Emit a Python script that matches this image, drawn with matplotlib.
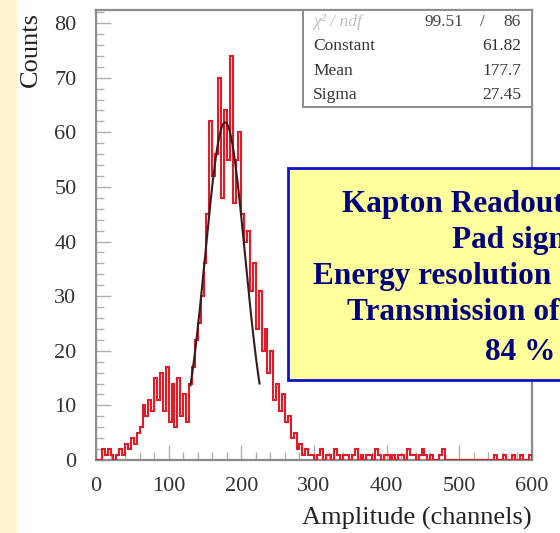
import numpy as np
import matplotlib.pyplot as plt
from matplotlib.patches import Rectangle
from matplotlib.ticker import MultipleLocator

plt.rcParams['font.family'] = ['Liberation Serif', 'DejaVu Serif']

# histogram: 4-channel bins from 0 to 600
bin_width = 4
counts = [
    0, 0, 2, 1, 2, 1, 0, 1, 2, 1,            # 0-40
    3, 2, 4, 3, 5, 6, 10, 8, 11, 9,          # 40-80
    15, 11, 16, 9, 17, 7, 14, 6, 15, 8,      # 80-120
    12, 7, 14, 17, 22, 25, 30, 36, 45, 62,   # 120-160
    52, 56, 70, 48, 64, 55, 74, 47, 55, 60,  # 160-200
    45, 40, 42, 31, 36, 24, 31, 20, 24, 16,  # 200-240
    20, 11, 14, 9, 12, 7, 8, 4, 5, 2,        # 240-280
    3, 1, 2, 1, 1, 0, 1, 2, 0, 1,            # 280-320
    1, 0, 2, 1, 0, 1, 1, 0, 1, 2,            # 320-360
    0, 1, 0, 1, 1, 0, 2, 1, 0, 1,            # 360-400
    1, 0, 1, 0, 1, 1, 0, 2, 1, 1,            # 400-440
    0, 1, 2, 1, 0, 1, 0, 0, 1, 2,            # 440-480
    0, 0, 0, 0, 0, 0, 0, 0, 0, 0,            # 480-520
    0, 0, 0, 0, 0, 0, 0, 1, 0, 0,            # 520-560
    1, 0, 0, 1, 0, 0, 1, 0, 0, 1,            # 560-600
]
edges = np.arange(0, bin_width * len(counts) + 1, bin_width)

# gaussian fit results
fit_const = 61.82
fit_mean = 177.7
fit_sigma = 27.45
chi2 = 99.51
ndf = 86
fit_lo, fit_hi = 130, 225

W, H = 560, 533


def fx(px):
    return px / W


def fy(py):
    return 1 - py / H


fig = plt.figure(figsize=(W / 100, H / 100), dpi=100)
fig.patch.set_facecolor('white')

# cream strip on the left edge
fig.patches.append(Rectangle((0, 0), fx(17), 1, transform=fig.transFigure,
                             facecolor='#fff3cd', edgecolor='none', zorder=0))

ax = fig.add_axes([fx(96), fy(460), fx(532) - fx(96), fy(10) - fy(460)])
ax.stairs(counts, edges, color='#e01c28', lw=1.5, zorder=3)

xf = np.linspace(fit_lo, fit_hi, 200)
yf = fit_const * np.exp(-0.5 * ((xf - fit_mean) / fit_sigma) ** 2)
ax.plot(xf, yf, color='#3a1a1a', lw=1.5, zorder=4)

ax.set_xlim(0, 600)
ax.set_ylim(0, 82.4)

frame_col = '#8c8c8c'
for s in ax.spines.values():
    s.set_color(frame_col)
    s.set_linewidth(1.6)

ax.xaxis.set_major_locator(MultipleLocator(100))
ax.xaxis.set_minor_locator(MultipleLocator(20))
ax.yaxis.set_major_locator(MultipleLocator(10))
ax.yaxis.set_minor_locator(MultipleLocator(2))
ax.tick_params(which='both', direction='in', color='#b0b0b0', width=1.0,
               top=False, right=False)
ax.tick_params(which='major', length=11)
ax.tick_params(which='minor', length=6)
ax.tick_params(axis='y', which='major', labelsize=16, labelcolor='#333333', pad=14)
ax.tick_params(axis='x', which='major', labelsize=16, labelcolor='#333333', pad=12)

fig.text(fx(31), fy(12), 'Counts', rotation=90, ha='center', va='top',
         fontsize=19, color='#222222')
fig.text(fx(532), fy(518), 'Amplitude (channels)', ha='right', va='center',
         fontsize=19, color='#222222')

# stats box
fig.patches.append(Rectangle((fx(303), fy(107)), fx(532) - fx(303), fy(10) - fy(107),
                             transform=fig.transFigure, facecolor='white',
                             edgecolor=frame_col, lw=1.4, zorder=3))
rows = [('Constant', f'{fit_const:.2f}'),
        ('Mean', f'{fit_mean:.1f}'),
        ('Sigma', f'{fit_sigma:.2f}')]
fig.text(fx(313), fy(22), 'χ² / ndf', ha='left', va='center', fontsize=12.5,
         color='#c0c0c0', style='italic', zorder=4)
fig.text(fx(463), fy(22), f'{chi2:.2f}', ha='right', va='center', fontsize=12.5,
         color='#444444', zorder=4)
fig.text(fx(482), fy(22), '/', ha='center', va='center', fontsize=12.5,
         color='#444444', zorder=4)
fig.text(fx(521), fy(22), f'{ndf}', ha='right', va='center', fontsize=12.5,
         color='#444444', zorder=4)
for i, (name, val) in enumerate(rows):
    yy = 46 + 24.5 * i
    fig.text(fx(313), fy(yy), name, ha='left', va='center', fontsize=12.5,
             color='#333333', zorder=4)
    fig.text(fx(521), fy(yy), val, ha='right', va='center', fontsize=12.5,
             color='#333333', zorder=4)

# note box, running past the right edge of the figure
fig.patches.append(Rectangle((fx(288), fy(380)), fx(700) - fx(288), fy(168) - fy(380),
                             transform=fig.transFigure, facecolor='#ffff9c',
                             edgecolor='#1010c8', lw=2.0, zorder=5))
note_lines = [
    (342, 212, 'Kapton Readout Board'),
    (452, 248, 'Pad signal'),
    (313, 284, 'Energy resolution'),
    (347, 320, 'Transmission of'),
    (485, 360, '84 %'),
]
for x0, y0, txt in note_lines:
    fig.text(fx(x0), fy(y0), txt, ha='left', va='baseline', fontsize=22.5,
             fontweight='bold', color='#000080', zorder=6)

fig.savefig('out.png', dpi=100)
